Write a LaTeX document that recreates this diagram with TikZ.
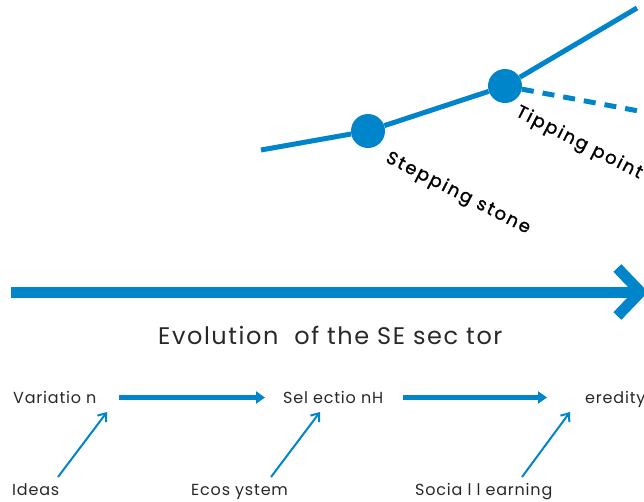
\documentclass[tikz,border=0pt]{standalone}
\usepackage{fontspec}
\setmainfont{Poppins}[LetterSpace=5]
\newfontfamily\schuinfont{Poppins}[LetterSpace=11, FakeBold=1.2]
\newfontfamily\asfont{Poppins}[LetterSpace=6.5]
\usetikzlibrary{arrows.meta}
\definecolor{sebleu}{RGB}{0,133,202}
\definecolor{tekst}{RGB}{40,40,40}
\tikzset{
  trend/.style={line width=5pt, color=sebleu},
  knoop/.style={circle, fill=sebleu, minimum size=34pt, inner sep=0pt},
  schuin/.style={font=\schuinfont\fontsize{18}{20}\selectfont, rotate=-27, anchor=north west, inner sep=0pt},
  label/.style={font=\fontsize{16}{18}\selectfont, text=tekst, inner sep=0pt, text height=11pt, text depth=0pt, anchor=base west},
  stap/.style={line width=4.5pt, color=sebleu, -{Triangle[length=9pt,width=12pt]}},
  invloed/.style={line width=2pt, color=sebleu, -{Straight Barb[length=7pt,width=11pt]}}
}

\begin{document}
\begin{tikzpicture}[x=1pt, y=-1pt]
\clip (0,0) rectangle (644,501);

% trend line
\node[knoop] (steen) at (368,131) {};
\node[knoop] (omslag) at (505,86) {};
\coordinate (begin) at (261,150);
\coordinate (eind) at (637,8);
\coordinate (afslag) at (660,115);
\draw[trend] (begin) -- (steen) -- (omslag) -- (eind);
\draw[trend, dash pattern=on 12pt off 9pt] (omslag) -- (afslag);

\node[schuin] (stepping) at (391,149) {Stepping stone};
\node[schuin] (tipping) at (521,103) {Tipping point};

% time axis
\coordinate (tijdstart) at (11,292);
\coordinate (tijdeind) at (648,292);
\draw[line width=11pt, color=sebleu, -{Straight Barb[sharp, length=23pt, width=48pt]}] (tijdstart) -- (tijdeind);
\node[font=\asfont\fontsize{24}{28}\selectfont, text=tekst, inner sep=0pt, anchor=base west] (evolutie) at (158,344) {Evolution\ \ of the SE sec tor};

% the three steps
\node[label] (variatie) at (13,403) {Variatio n};
\node[label] (selectie) at (283,403) {Sel ectio nH};
\node[label] (erfelijk) at (585,403) {eredity};
\draw[stap, shorten <=22pt, shorten >=18pt] (variatie.east) -- (selectie.west);
\draw[stap, shorten <=20pt, shorten >=38pt] (selectie.east) -- (erfelijk.west);

% what drives them
\node[label] (ideeen) at (12,495) {Ideas};
\node[label] (ecosysteem) at (191,495) {Ecos ystem};
\node[label] (sociaal) at (415,495) {Socia l l earning};
\coordinate (ideeen-uit) at (58,477);
\coordinate (ecosysteem-uit) at (271,477);
\coordinate (sociaal-uit) at (522,477);
\coordinate (variatie-in) at (107,412);
\coordinate (selectie-in) at (320,412);
\coordinate (erfelijk-in) at (570,412);
\draw[invloed] (ideeen-uit) -- (variatie-in);
\draw[invloed] (ecosysteem-uit) -- (selectie-in);
\draw[invloed] (sociaal-uit) -- (erfelijk-in);
\end{tikzpicture}
\end{document}
